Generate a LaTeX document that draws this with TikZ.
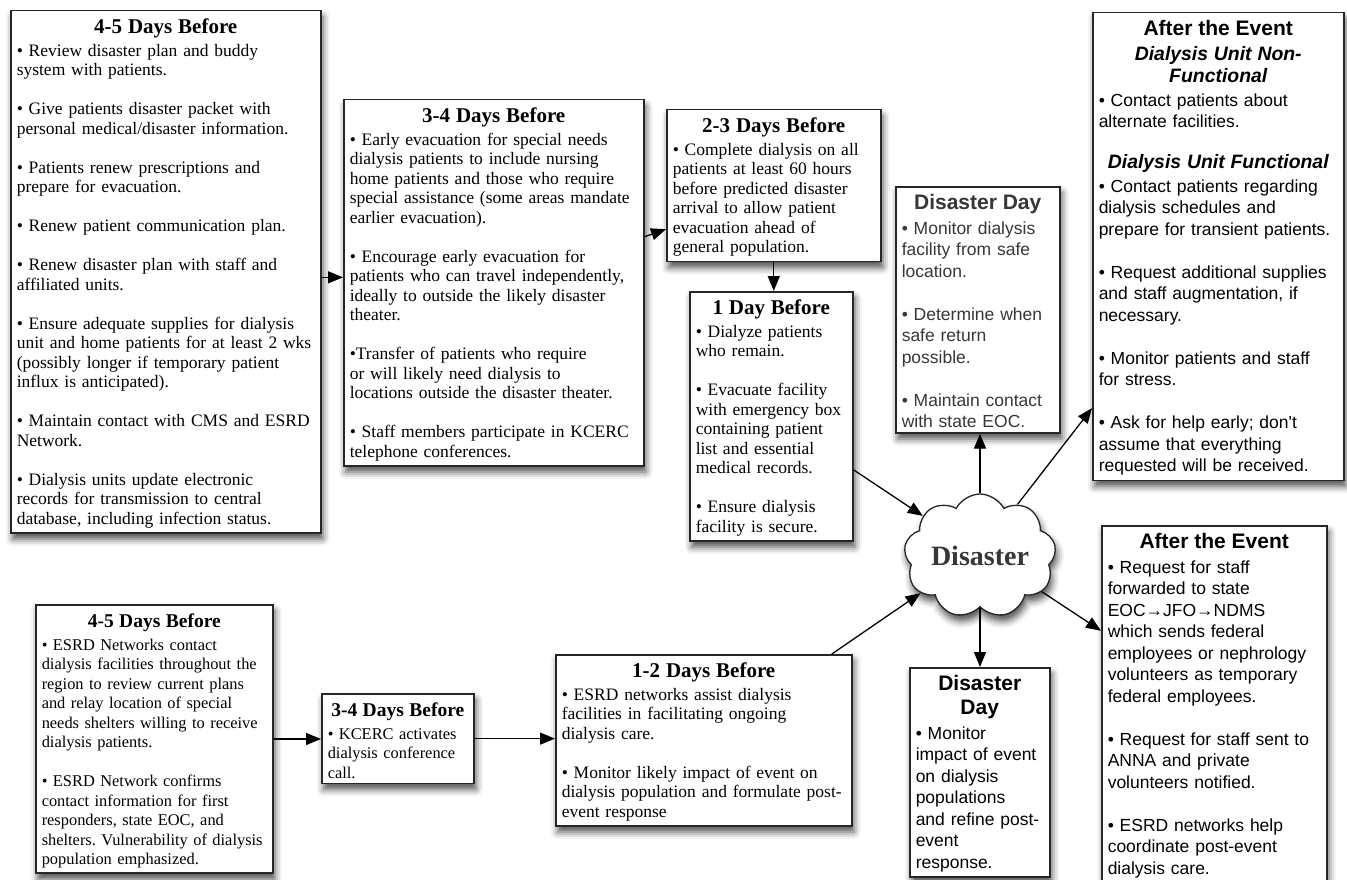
\documentclass[tikz,border=0pt]{standalone}
\usepackage{fontspec}
\setmainfont{Liberation Serif}
\setsansfont{Liberation Sans}
\usepackage{tikz}
\usetikzlibrary{arrows.meta, shapes.symbols, shadows.blur}
\frenchspacing
\definecolor{boxLine}{RGB}{38,38,38}
\definecolor{softText}{RGB}{55,55,55}
\definecolor{cloudText}{RGB}{55,55,55}
\tikzstyle{timeline} = [x = 1pt, y = -1pt]
\tikzstyle{boxShadow} = [blur shadow = {shadow xshift = 2pt, shadow yshift = -6pt, shadow blur radius = 7pt, shadow opacity = 70}]
\tikzstyle{planBox} = [draw = boxLine, line width = 1.5pt, fill = white, anchor = north west, inner xsep = 6pt, inner ysep = 5pt, align = left, boxShadow]
\tikzstyle{serifBox} = [planBox, font = \fontsize{17.5}{19.5}\selectfont]
\tikzstyle{smallSerifBox} = [planBox, font = \fontsize{16.4}{19.5}\selectfont]
\tikzstyle{sansBox} = [planBox, font = \sffamily\fontsize{17.5}{21.5}\selectfont]
\tikzstyle{flowArrow} = [line width = 1.3pt, -{Triangle[length = 15pt, width = 12pt]}]
\tikzstyle{disasterCloud} = [cloud, cloud puffs = 9, cloud puff arc = 125, cloud ignores aspect, minimum width = 152pt, minimum height = 124pt, draw = boxLine, line width = 1.3pt, fill = white, boxShadow, font = \bfseries\fontsize{28}{30}\selectfont, text = cloudText]
\newcommand{\boxTitle}[1]{{\centering\bfseries\fontsize{21}{24}\selectfont\rule{0pt}{18pt}#1\par}\vspace{3pt}}
\newcommand{\smallBoxTitle}[1]{{\centering\bfseries\fontsize{19.5}{22}\selectfont\rule{0pt}{18pt}#1\par}\vspace{3pt}}
\newcommand{\subTitle}[1]{{\centering\bfseries\itshape\fontsize{19.4}{22}\selectfont #1\par}\vspace{2pt}}
\newcommand{\blankLine}{\\[\baselineskip]}

\begin{document}
\begin{tikzpicture}[timeline]
  \useasboundingbox (0, 0) rectangle (1347, 880);

  \node [serifBox, text width = 298pt] (unitFourFive) at (10, 10) {\boxTitle{4-5 Days Before}
    • Review disaster plan and buddy\\
    system with patients.\blankLine
    • Give patients disaster packet with\\
    personal medical/disaster information.\blankLine
    • Patients renew prescriptions and\\
    prepare for evacuation.\blankLine
    • Renew patient communication plan.\blankLine
    • Renew disaster plan with staff and\\
    affiliated units.\blankLine
    • Ensure adequate supplies for dialysis\\
    unit and home patients for at least 2 wks\\
    (possibly longer if temporary patient\\
    influx is anticipated).\blankLine
    • Maintain contact with CMS and ESRD\\
    Network.\blankLine
    • Dialysis units update electronic\\
    records for transmission to central\\
    database, including infection status.};

  \node [serifBox, text width = 288pt] (unitThreeFour) at (343, 99) {\boxTitle{3-4 Days Before}
    • Early evacuation for special needs\\
    dialysis patients to include nursing\\
    home patients and those who require\\
    special assistance (some areas mandate\\
    earlier evacuation).\blankLine
    • Encourage early evacuation for\\
    patients who can travel independently,\\
    ideally to outside the likely disaster\\
    theater.\blankLine
    •Transfer of patients who require\\
    or will likely need dialysis to\\
    locations outside the disaster theater.\blankLine
    • Staff members participate in KCERC\\
    telephone conferences.};

  \node [serifBox, text width = 202pt] (unitTwoThree) at (666, 109) {\boxTitle{2-3 Days Before}
    • Complete dialysis on all\\
    patients at least 60 hours\\
    before predicted disaster\\
    arrival to allow patient\\
    evacuation ahead of\\
    general population.};

  \node [serifBox, text width = 151pt] (unitOneDay) at (689, 291) {\boxTitle{1 Day Before}
    • Dialyze patients\\
    who remain.\blankLine
    • Evacuate facility\\
    with emergency box\\
    containing patient\\
    list and essential\\
    medical records.\blankLine
    • Ensure dialysis\\
    facility is secure.};

  \node [sansBox, text width = 152pt, text = softText] (unitDisasterDay) at (895, 186) {\boxTitle{Disaster Day}
    • Monitor dialysis\\
    facility from safe\\
    location.\blankLine
    • Determine when\\
    safe return\\
    possible.\blankLine
    • Maintain contact\\
    with state EOC.};

  \node [sansBox, text width = 239pt] (unitAfter) at (1092, 12) {\boxTitle{After the Event}
    \subTitle{Dialysis Unit Non-\\Functional}
    • Contact patients about\\
    alternate facilities.\par\vspace{19pt}
    \subTitle{Dialysis Unit Functional}
    • Contact patients regarding\\
    dialysis schedules and\\
    prepare for transient patients.\blankLine
    • Request additional supplies\\
    and staff augmentation, if\\
    necessary.\blankLine
    • Monitor patients and staff\\
    for stress.\blankLine
    • Ask for help early; don\textquotesingle t\\
    assume that everything\\
    requested will be received.};

  \node [disasterCloud] (disaster) at (980, 556) {Disaster};

  \node [sansBox, text width = 128pt] (netDisasterDay) at (909, 667) {\boxTitle{Disaster\\Day}
    • Monitor\\
    impact of event\\
    on dialysis\\
    populations\\
    and refine post-\\
    event\\
    response.};

  \node [sansBox, text width = 213pt] (netAfter) at (1101, 525) {\boxTitle{After the Event}
    • Request for staff\\
    forwarded to state\\
    EOC→JFO→NDMS\\
    which sends federal\\
    employees or nephrology\\
    volunteers as temporary\\
    federal employees.\blankLine
    • Request for staff sent to\\
    ANNA and private\\
    volunteers notified.\blankLine
    • ESRD networks help\\
    coordinate post-event\\
    dialysis care.};

  \node [smallSerifBox, text width = 225pt] (netFourFive) at (35, 604) {\smallBoxTitle{4-5 Days Before}
    • ESRD Networks contact\\
    dialysis facilities throughout the\\
    region to review current plans\\
    and relay location of special\\
    needs shelters willing to receive\\
    dialysis patients.\blankLine
    • ESRD Network confirms\\
    contact information for first\\
    responders, state EOC, and\\
    shelters. Vulnerability of dialysis\\
    population emphasized.};

  \node [smallSerifBox, text width = 140pt] (netThreeFour) at (321, 693) {\smallBoxTitle{3-4 Days Before}
    • KCERC activates\\
    dialysis conference\\
    call.};

  \node [serifBox, text width = 284pt] (netOneTwo) at (555, 654) {\boxTitle{1-2 Days Before}
    • ESRD networks assist dialysis\\
    facilities in facilitating ongoing\\
    dialysis care.\blankLine
    • Monitor likely impact of event on\\
    dialysis population and formulate post-\\
    event response};

  \draw [flowArrow] (unitFourFive.-2.4) -- (unitFourFive.-2.4 -| unitThreeFour.west);
  \draw [flowArrow] (unitThreeFour.17) -- (unitTwoThree.202);
  \draw [flowArrow] (unitTwoThree.south) -- (unitTwoThree.south |- unitOneDay.north);
  \draw [flowArrow] (unitOneDay.-33) -- (disaster.145);
  \draw [flowArrow] (disaster.north) -- (disaster.north |- unitDisasterDay.south);
  \draw [flowArrow] (disaster.54) -- (unitAfter.232);
  \draw [flowArrow] (disaster.south) -- (disaster.south |- netDisasterDay.north);
  \draw [flowArrow] (disaster.-30) -- (netAfter.147);
  \draw [flowArrow] (netOneTwo.34) -- (disaster.212);
  \draw [flowArrow] (netFourFive.east) -- (netFourFive.east -| netThreeFour.west);
  \draw [flowArrow] (netThreeFour.east) -- (netThreeFour.east -| netOneTwo.west);
\end{tikzpicture}
\end{document}
